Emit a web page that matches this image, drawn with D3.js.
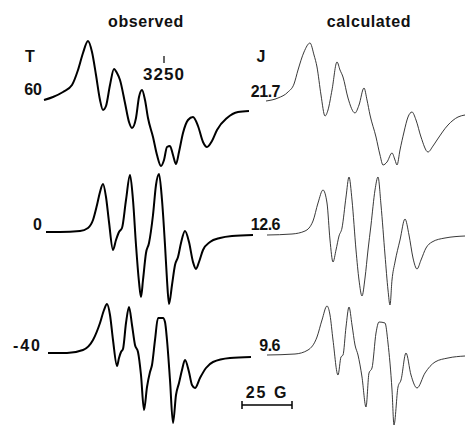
<!DOCTYPE html>
<html lang="en">
<head>
  <meta charset="UTF-8">
  <title>observed / calculated</title>
  <style>
    body { margin: 0; background: #fff; }
    svg { display: block; }
    text { font-family: "Liberation Sans", Arial, sans-serif; font-weight: bold; fill: #111; }
  </style>
</head>
<body>
  <svg width="466" height="426"></svg>

  <script src="https://d3js.org/d3.v7.min.js"></script>
  <script>
    // row labels
    const temps = ["60", "0", "-40"];
    const jValues = ["21.7", "12.6", "9.6"];
    const centerField = 3250;
    const scaleBarG = 25;

    // spectra: [field (G), amplitude]
    const obs60 = [
      [3190, 5], [3194.5, 8], [3199.5, 13], [3204, 20], [3207, 35], [3209.5, 52], [3212, 64],
      [3214, 53], [3216, 30], [3218, 5], [3219.5, -5], [3221, -1], [3223, 20], [3225, 36],
      [3226.5, 32], [3228, 25], [3230.5, 2], [3232.5, -17], [3234, -23], [3236, -13], [3237.5, 8],
      [3239, 15], [3240.5, 5], [3242, -13], [3244.5, -32], [3246.5, -50], [3248.5, -61],
      [3250, -55], [3251.5, -42], [3253, -41], [3254.5, -50], [3256, -59], [3257.5, -47],
      [3259.5, -28], [3262, -15], [3264.5, -12], [3267, -21], [3269.5, -37], [3271.5, -42],
      [3274, -36], [3276.5, -25], [3281.5, -13], [3287, -7], [3292.5, -6]
    ];
    const obs0 = [
      [3191, 2], [3198, 2], [3208, 3], [3212, 6], [3214.5, 14], [3216.5, 29], [3218, 42],
      [3219.5, 50], [3221, 37], [3222.5, 12], [3224.5, -16], [3226, -6], [3227.5, 2], [3229, 6],
      [3231, 34], [3233, 59], [3234.5, 34], [3236, -11], [3237.5, -48], [3238.5, -63],
      [3239.5, -46], [3241, -19], [3242.5, -9], [3244.5, 19], [3246, 49], [3247.5, 60],
      [3249, 34], [3250.5, -11], [3251.5, -46], [3252.5, -70], [3254, -51], [3255.5, -31],
      [3257, -23], [3258.5, -9], [3260.5, 3], [3262.5, -8], [3264.5, -28], [3266, -35],
      [3267.5, -28], [3269.5, -16], [3273, -8], [3278, -4], [3284, -2], [3294.5, -1]
    ];
    const obsM40 = [
      [3192, 2], [3201.5, 2], [3209.5, 5], [3214.5, 15], [3218, 32], [3220, 45], [3221.5, 51],
      [3223, 40], [3224.5, 15], [3226.5, -11], [3227.5, -3], [3228.5, 3], [3229.5, 6],
      [3231, 32], [3232.5, 48], [3234, 30], [3235.5, 10], [3237, 3], [3238.5, -20], [3240, -55],
      [3241.5, -32], [3243, -17], [3244, -10], [3245.5, 15], [3247, 37], [3249.5, 37],
      [3250.5, 33], [3251.5, 15], [3253, -25], [3254.5, -68], [3256, -40], [3257.5, -28],
      [3259, -15], [3260.5, -5], [3262.5, -17], [3264, -30], [3265.5, -33], [3268, -23],
      [3271, -13], [3274.5, -7], [3283, -3], [3293.5, -2]
    ];
    const calc217 = [
      [3191, 4], [3197, 7], [3202, 13], [3205, 21], [3207, 35], [3210, 53], [3213, 62],
      [3215, 50], [3216.5, 38], [3218.5, 10], [3220.5, -11], [3222, -5], [3224, 15],
      [3226.5, 43], [3228, 35], [3229.5, 28], [3232, 7], [3235.5, -8], [3237.5, 0], [3240, 17],
      [3241.5, 5], [3243, -10], [3246, -32], [3248, -50], [3249.5, -60], [3251.5, -57],
      [3254, -48], [3255.5, -55], [3256.5, -60], [3258, -45], [3260, -27], [3262, -12],
      [3264, -7], [3266, -15], [3268.5, -32], [3272, -47], [3274.5, -41], [3276.5, -35],
      [3282, -20], [3287, -12], [3290.5, -10]
    ];
    const calc126 = [
      [3191.5, -1], [3204, 0], [3210.5, 3], [3214.5, 13], [3217, 31], [3219.5, 44],
      [3221.5, 31], [3223, -6], [3224.5, -28], [3226, -16], [3227.5, -2], [3229, 6],
      [3231, 37], [3232.5, 57], [3234, 34], [3236, -16], [3237.5, -46], [3239, -62],
      [3240.5, -44], [3242, -16], [3243.5, 9], [3245.5, 44], [3247, 57], [3248.5, 29],
      [3250.5, -21], [3252, -56], [3253, -71], [3254, -46], [3255.5, -28], [3258, -6],
      [3260.5, 15], [3262.5, -1], [3264.5, -24], [3266.5, -35], [3268.5, -26], [3271, -14],
      [3274, -8], [3280.5, -4], [3290.5, -2]
    ];
    const calc96 = [
      [3191.5, 0], [3205.5, 1], [3212, 5], [3216.5, 18], [3219, 35], [3221.5, 49], [3223, 40],
      [3224.5, 15], [3227, -20], [3228.5, -2], [3229.5, 0], [3231, 28], [3232.5, 48],
      [3234, 30], [3235.5, 10], [3237, 0], [3239, -22], [3241, -52], [3242.5, -18],
      [3244, -13], [3246, 22], [3247.5, 33], [3250.5, 32], [3252, 12], [3254, -35],
      [3255, -70], [3257, -32], [3258.5, -25], [3261, 2], [3263.5, -20], [3266.5, -33],
      [3270.5, -18], [3275.5, -7], [3282, -3], [3290.5, -1]
    ];

    const observed = [obs60, obs0, obsM40];
    const calculated = [calc217, calc126, calc96];

    const svg = d3.select("svg");

    // 2 px per gauss, calculated panel shifted 220 px to the right
    const xObs = d3.scaleLinear().domain([3190, 3295]).range([44, 254]);
    const xCalc = d3.scaleLinear().domain([3190, 3295]).range([264, 474]);
    const yAmp = d3.scaleLinear().domain([-100, 100]).range([100, -100]);
    const rowY = [105, 234, 355];

    const lineObs = d3.line().x(d => xObs(d[0])).y(d => yAmp(d[1])).curve(d3.curveMonotoneX);
    const lineCalc = d3.line().x(d => xCalc(d[0])).y(d => yAmp(d[1])).curve(d3.curveMonotoneX);

    svg.append("g")
      .selectAll("path")
      .data(observed)
      .join("path")
      .attr("transform", (d, i) => `translate(0,${rowY[i]})`)
      .attr("d", lineObs)
      .attr("fill", "none")
      .attr("stroke", "#000")
      .attr("stroke-width", 2)
      .attr("stroke-linejoin", "round");

    svg.append("g")
      .selectAll("path")
      .data(calculated)
      .join("path")
      .attr("transform", (d, i) => `translate(0,${rowY[i]})`)
      .attr("d", lineCalc)
      .attr("fill", "none")
      .attr("stroke", "#222")
      .attr("stroke-width", 0.9);

    // headers
    svg.append("text").attr("x", 146).attr("y", 27).attr("text-anchor", "middle")
      .attr("font-size", 16).attr("letter-spacing", 0.6).text("observed");
    svg.append("text").attr("x", 369).attr("y", 27).attr("text-anchor", "middle")
      .attr("font-size", 16).attr("letter-spacing", 0.6).text("calculated");

    svg.append("text").attr("x", 30).attr("y", 62).attr("text-anchor", "middle")
      .attr("font-size", 16).text("T");
    svg.append("text").attr("x", 261).attr("y", 62).attr("text-anchor", "middle")
      .attr("font-size", 16).text("J");

    const labelY = [95, 230, 351];
    svg.append("g")
      .selectAll("text")
      .data(temps)
      .join("text")
      .attr("x", 42)
      .attr("y", (d, i) => labelY[i])
      .attr("text-anchor", "end")
      .attr("font-size", 16)
      .attr("letter-spacing", d => d === "-40" ? 2 : 0)
      .text(d => d);

    svg.append("g")
      .selectAll("text")
      .data(jValues)
      .join("text")
      .attr("x", 280)
      .attr("y", (d, i) => labelY[i] + (i === 0 ? 2 : 0))
      .attr("text-anchor", "end")
      .attr("font-size", 16)
      .attr("letter-spacing", -0.5)
      .text(d => d);

    // field marker
    svg.append("line")
      .attr("x1", xObs(centerField)).attr("x2", xObs(centerField))
      .attr("y1", 56).attr("y2", 63)
      .attr("stroke", "#000").attr("stroke-width", 1.2);
    svg.append("text").attr("x", xObs(centerField)).attr("y", 80).attr("text-anchor", "middle")
      .attr("font-size", 17).attr("letter-spacing", 1).text(String(centerField));

    // scale bar
    const sb0 = xCalc(3179), sb1 = xCalc(3179 + scaleBarG);
    const bar = svg.append("g").attr("stroke", "#000").attr("stroke-width", 1.5);
    bar.append("line").attr("x1", sb0).attr("x2", sb1).attr("y1", 405).attr("y2", 405);
    bar.append("line").attr("x1", sb0).attr("x2", sb0).attr("y1", 401).attr("y2", 409);
    bar.append("line").attr("x1", sb1).attr("x2", sb1).attr("y1", 401).attr("y2", 409);
    svg.append("text").attr("x", (sb0 + sb1) / 2).attr("y", 398).attr("text-anchor", "middle")
      .attr("font-size", 16).attr("letter-spacing", 2).text(`${scaleBarG} G`);
  </script>
</body>
</html>
